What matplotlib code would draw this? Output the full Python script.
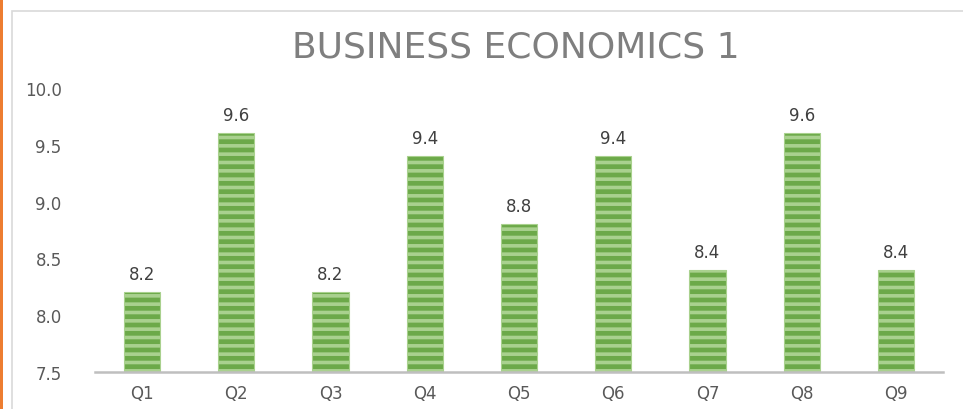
import matplotlib.pyplot as plt
import matplotlib as mpl
from matplotlib.patches import Rectangle

plt.rcParams['font.family'] = ['DejaVu Sans']
mpl.rcParams['hatch.linewidth'] = 2.6
mpl.rcParams['hatch.color'] = '#7AB559'

questions = ['Q1', 'Q2', 'Q3', 'Q4', 'Q5', 'Q6', 'Q7', 'Q8', 'Q9']
scores = [8.2, 9.6, 8.2, 9.4, 8.8, 9.4, 8.4, 9.6, 8.4]
y_ticks = [7.5, 8.0, 8.5, 9.0, 9.5, 10.0]

fig = plt.figure(figsize=(9.63, 4.10), dpi=100)
ax = fig.add_axes([95 / 963, 1 - 373 / 410, 848 / 963, 284 / 410])

# chart frame and the orange edge on the far left
fig.add_artist(Rectangle((12 / 963, -0.1), 1.1, 1 - 12 / 410 + 0.1, transform=fig.transFigure,
                         fill=False, edgecolor='#D9D9D9', linewidth=1.2))
fig.add_artist(Rectangle((0, 0), 3 / 963, 1, transform=fig.transFigure,
                         facecolor='#ED7D31', edgecolor='none'))

x = range(len(questions))
bars = ax.bar(x, scores, width=0.385, color='#6CA949', edgecolor='#A9D18E',
              linewidth=0.8, hatch='--', bottom=0)
for b, v in zip(bars, scores):
    ax.text(b.get_x() + b.get_width() / 2, v + 0.08, f'{v:.1f}', ha='center', va='bottom',
            fontsize=12, color='#404040')

ax.set_xlim(-0.5, len(questions) - 0.5)
ax.set_ylim(7.5, 10.0)
ax.set_yticks(y_ticks)
ax.set_yticklabels([f'{t:.1f}' for t in y_ticks])
ax.set_xticks(list(x))
ax.set_xticklabels(questions)
ax.tick_params(axis='both', length=0, labelsize=12, colors='#595959')
ax.tick_params(axis='y', pad=24)
ax.tick_params(axis='x', pad=9)
for s in ['top', 'right', 'left']:
    ax.spines[s].set_visible(False)
ax.spines['bottom'].set_color('#BFBFBF')
ax.spines['bottom'].set_linewidth(1.8)

fig.text(516 / 963, 1 - 48 / 410, 'BUSINESS ECONOMICS 1', ha='center', va='center',
         fontsize=26, color='#7F7F7F')

fig.savefig('out.png', dpi=100)
